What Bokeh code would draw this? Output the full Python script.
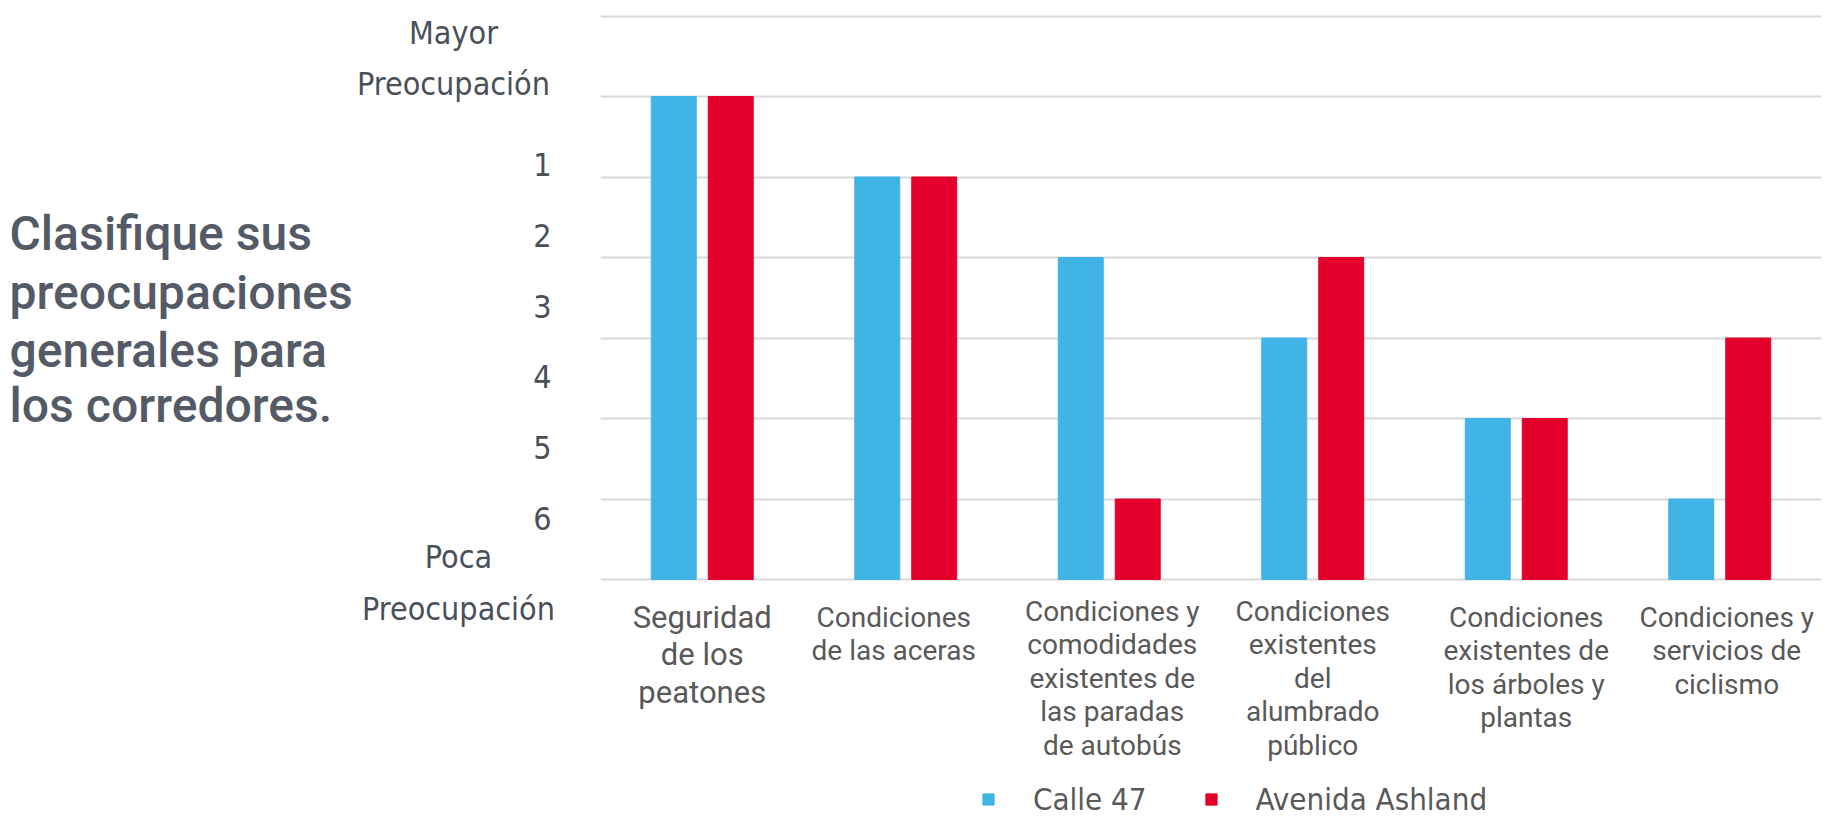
from bokeh.plotting import figure
from bokeh.layouts import row
from bokeh.models import (FactorRange, Range1d, Grid, FixedTicker, Legend,
                          LegendItem, ColumnDataSource)
from bokeh.core.properties import value
from bokeh.transform import dodge
from bokeh.embed import file_html
from bokeh.resources import INLINE

# ---- data ----
categories = [
    "Seguridad\nde los\npeatones",
    "Condiciones\nde las aceras",
    "Condiciones y\ncomodidades\nexistentes de\nlas paradas\nde autobús",
    "Condiciones\nexistentes\ndel\nalumbrado\npúblico",
    "Condiciones\nexistentes de\nlos árboles y\nplantas",
    "Condiciones y\nservicios de\nciclismo",
]
calle_47 = [6, 5, 4, 3, 2, 1]
avenida_ashland = [6, 5, 1, 4, 2, 3]
series_names = ["Calle 47", "Avenida Ashland"]
rank_labels = ["1", "2", "3", "4", "5", "6"]
top_label = ["Mayor", "Preocupación"]
bottom_label = ["Poca", "Preocupación"]
title_lines = ["Clasifique sus", "preocupaciones", "generales para", "los corredores."]

# ---- styling of the category labels (sizes / small shifts, in px) ----
label_sizes = ["31px", "28px", "28px", "28px", "28px", "28px"]
label_dx = [0, -12, 3, 0, 10, 7]
label_dy = [4, 6, 0, 0, 6, 6]

BLUE = "#41B4E6"
RED = "#E4002B"
COND = "'DejaVu Sans Condensed', 'DejaVu Sans', sans-serif"
H = 820

# ---------------- left panel (title + rank scale) ----------------
left = figure(width=600, height=H, output_backend="svg", toolbar_location=None,
              x_range=Range1d(0, 600), y_range=Range1d(H, 0),
              x_axis_location=None, y_axis_location=None,
              min_border_left=0, min_border_right=0, min_border_top=0, min_border_bottom=0)
left.outline_line_color = None
left.xgrid.visible = False
left.ygrid.visible = False

n = len(rank_labels)
rank_y = [164 + i * (518 - 164) / (n - 1) for i in range(n)]
left.text(x=[551] * n, y=rank_y, text=rank_labels, text_font=value(COND),
          text_font_size="32px", text_color="#4A5059", text_align="right",
          text_baseline="middle")
left.text(x=[453, 453], y=[32, 83], text=top_label, text_font=value(COND),
          text_font_size="32px", text_color="#4A5059", text_align="center",
          text_baseline="middle")
left.text(x=[458, 458], y=[556, 608], text=bottom_label, text_font=value(COND),
          text_font_size="32px", text_color="#4A5059", text_align="center",
          text_baseline="middle")
left.text(x=[9] * 4, y=[233, 292, 350, 405], text=title_lines,
          text_font=value("'Roboto Medium', Roboto"),
          text_font_size="48px", text_color="#555B66", text_align="left",
          text_baseline="middle")

# ---------------- main chart ----------------
PX = 80.5          # pixels per unit of the rank scale
TOP, BASE = 15.5, 579
src = ColumnDataSource(dict(cat=categories, calle=calle_47, ashland=avenida_ashland,
                            size=label_sizes, dx=label_dx, dy=label_dy))

p = figure(width=1232, height=H, output_backend="svg", toolbar_location=None,
           x_range=FactorRange(factors=categories, range_padding=0),
           y_range=Range1d(-(H - BASE) / PX, 7 + TOP / PX),
           x_axis_location=None, y_axis_location=None,
           min_border_left=0, min_border_right=11, min_border_top=0, min_border_bottom=0)
p.outline_line_color = None
p.xgrid.visible = False
p.ygrid.visible = False

grid = Grid(dimension=1, ticker=FixedTicker(ticks=list(range(8))),
            grid_line_color="#D9D9D9", grid_line_width=2)
p.add_layout(grid)

r1 = p.vbar(x=dodge("cat", -0.14, range=p.x_range), top="calle", width=0.221,
            source=src, color=BLUE)
r2 = p.vbar(x=dodge("cat", 0.14, range=p.x_range), top="ashland", width=0.221,
            source=src, color=RED)

# category labels under the bars
p.text(x="cat", y=-(594 - BASE) / PX, text="cat", source=src,
       x_offset="dx", y_offset="dy", text_font_size="size",
       text_font=value("Roboto"), text_color="#595959",
       text_align="center", text_baseline="top", text_line_height=1.02)

# legend
legend = Legend(items=[LegendItem(label=series_names[0], renderers=[r1]),
                       LegendItem(label=series_names[1], renderers=[r2])],
                orientation="horizontal", location=(381, 3),
                glyph_width=14, glyph_height=14, label_height=14,
                label_standoff=38, spacing=57, padding=0, margin=0,
                border_line_color=None, background_fill_alpha=0,
                label_text_font=COND, label_text_font_size="31px",
                label_text_color="#595959", label_text_baseline="middle")
p.add_layout(legend)

open("out.html", "w").write(file_html(row(left, p), INLINE))
